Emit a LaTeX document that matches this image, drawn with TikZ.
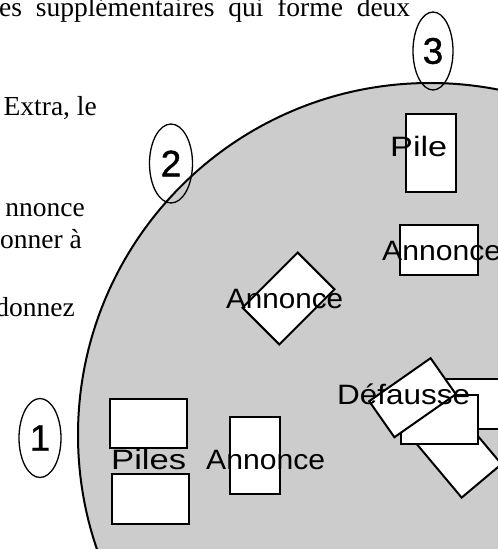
\documentclass[tikz,border=0pt]{standalone}
\usepackage{fontspec}
\setmainfont{Liberation Serif}
\newfontfamily\labelfont{Liberation Sans}
\newfontfamily\seatfont[FakeBold=1]{Liberation Sans}
\usetikzlibrary{shapes.geometric}
\definecolor{tablegray}{HTML}{CCCCCC}
% stretch a label horizontally to a given width, keeping its height
\newcommand{\fitw}[2]{\resizebox{#1}{\height}{#2}}

\begin{document}
\begin{tikzpicture}[x=1pt,y=-1pt,
  card/.style={draw, line width=2pt, fill=white, inner sep=0pt, outer sep=0pt},
  hcard/.style={card, minimum width=78pt, minimum height=50pt},
  vcard/.style={card, minimum width=50pt, minimum height=78pt},
  lbl/.style={font=\labelfont\fontsize{28}{28}\selectfont, inner sep=0pt, anchor=base west},
  num/.style={ellipse, draw, line width=1.3pt, inner sep=0pt,
    minimum width=42pt, minimum height=79pt,
    font=\seatfont\fontsize{37}{37}\selectfont},
  prose/.style={font=\fontsize{27.5}{32}\selectfont, inner sep=0pt}]

\useasboundingbox (0,0) rectangle (498,549);
\clip (0,0) rectangle (498,549);

% running text of the page
\node[prose, anchor=base west] (l1) at (-1,16) {\makebox[411pt][s]{es supplémentaires qui forme deux}};
\node[prose, anchor=base east] (l2) at (97,115.5) {Extra, le};
\node[prose, anchor=base east] (l3) at (85,216.5) {nnonce};
\node[prose, anchor=base east] (l4) at (82,248) {onner à};
\node[prose, anchor=base east] (l5) at (75,316) {donnez};

% the table
\node[circle, draw, fill=tablegray, line width=2pt, inner sep=0pt,
      minimum size=704pt] (table) at (430,435) {};

% player 3
\node[vcard] (pile3) at (430.5,153) {};
\node[hcard] (ann3) at (439,249.5) {};

% player 2
\node[hcard, rotate=45, minimum height=52pt] (ann2) at (288.5,298.5) {};

% player 1
\node[hcard, minimum width=77pt, minimum height=49pt] (piles1a) at (148.5,423.5) {};
\node[hcard, minimum width=77pt] (piles1b) at (150.5,499) {};
\node[vcard, minimum height=77pt] (ann1) at (255,455.5) {};

% discard heap
\node[hcard] (disc1) at (484,404) {};
\node[hcard, rotate=-50, minimum height=52pt] (disc2) at (456.5,451) {};
\node[hcard, minimum width=77pt, minimum height=49pt] (disc3) at (439.5,419.5) {};
\node[hcard, rotate=35, minimum width=75pt, minimum height=44pt] (disc4) at (412.5,397.7) {};

% labels
\node[lbl] (tpile) at (390,156) {\fitw{57pt}{Pile}};
\node[lbl] (tann3) at (382,260) {\fitw{119pt}{Annonce}};
\node[lbl] (tann2) at (226,308) {\fitw{117pt}{Annonce}};
\node[lbl] (tpiles) at (111,469) {\fitw{75pt}{Piles}};
\node[lbl] (tann1) at (206,469) {\fitw{119pt}{Annonce}};
\node[lbl] (tdisc) at (337,404) {\fitw{133pt}{Défausse}};

% seat numbers
\node[num] (seat1) at (40,438) {1};
\node[num, minimum width=43pt] (seat2) at (171,163.5) {2};
\node[num, minimum width=40pt, minimum height=78pt] (seat3) at (433,51) {3};
\end{tikzpicture}
\end{document}
